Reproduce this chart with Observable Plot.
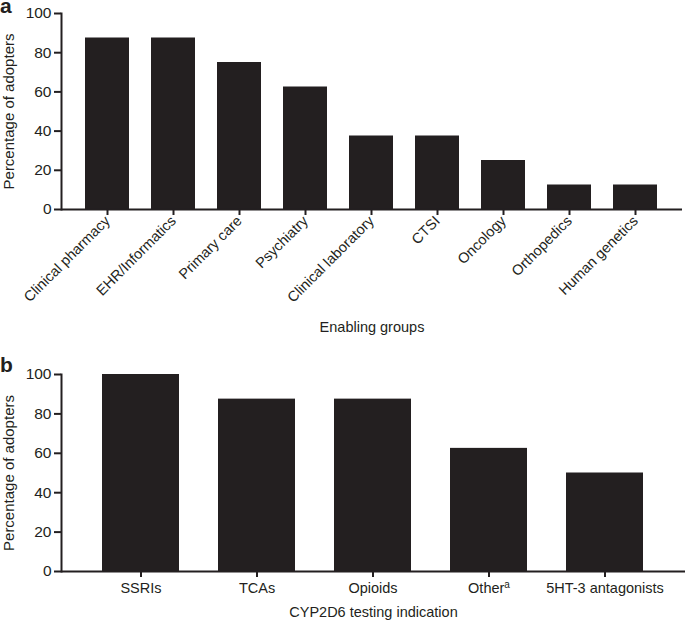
<!DOCTYPE html>
<html>
<head>
<meta charset="utf-8">
<script src="https://cdn.jsdelivr.net/npm/d3@7"></script>
<script src="https://cdn.jsdelivr.net/npm/@observablehq/plot@0.6"></script>
<style>
  html, body { margin: 0; padding: 0; background: #fff; }
  #wrap { position: relative; width: 685px; height: 622px; overflow: hidden; font-family: "Liberation Sans", Arial, Helvetica, sans-serif; color: #231f20; }
  #wrap svg { display: block; }
  .panel-letter { position: absolute; left: 0; font-weight: bold; font-size: 21px; line-height: 1; }
</style>
</head>
<body>
<div id="wrap">
  <div id="chartA"></div>
  <div id="chartB"></div>
  <div class="panel-letter" style="top:2px; line-height:0.35;">a</div>
  <div class="panel-letter" style="top:354px;">b</div>
</div>
<script>
// Panel a: enabling groups
const groups = ["Clinical pharmacy", "EHR/Informatics", "Primary care", "Psychiatry", "Clinical laboratory", "CTSI", "Oncology", "Orthopedics", "Human genetics"];
const groupValues = [87.5, 87.5, 75, 62.5, 37.5, 37.5, 25, 12.5, 12.5];

// Panel b: CYP2D6 testing indication
const indications = ["SSRIs", "TCAs", "Opioids", "Other", "5HT-3 antagonists"];
const indicationValues = [100, 87.5, 87.5, 62.5, 50];

const yTicks = [0, 20, 40, 60, 80, 100];
const yTitle = "Percentage of adopters";
const xTitleA = "Enabling groups";
const xTitleB = "CYP2D6 testing indication";

const ink = "#231f20";
const font = "'Liberation Sans', Arial, Helvetica, sans-serif";

const dataA = groups.map((g, i) => ({group: g, value: groupValues[i]}));
const dataB = indications.map((g, i) => ({group: g, value: indicationValues[i]}));

const chartA = Plot.plot({
  width: 685, height: 340,
  marginTop: 13, marginBottom: 131, marginLeft: 61, marginRight: 3,
  style: {fontFamily: font, fontSize: "14.5px", color: ink, background: "white", overflow: "visible"},
  x: {domain: groups, paddingInner: 0.338, paddingOuter: 0, align: 0.5, insetLeft: 22, insetRight: 23, label: null},
  y: {domain: [0, 100], label: null},
  marks: [
    Plot.barY(dataA, {x: "group", y: "value", fill: ink}),
    Plot.ruleY([0], {stroke: ink, strokeWidth: 2}),
    Plot.frame({anchor: "left", stroke: ink, strokeWidth: 2}),
    Plot.axisY({ticks: yTicks, tickSize: 7, tickPadding: 3, fontSize: 15.5, strokeWidth: 2, label: null}),
    Plot.axisX({tickRotate: -45, tickSize: 6, tickPadding: 3, strokeWidth: 2, fontSize: 14.5, label: null}),
    Plot.text([yTitle], {frameAnchor: "left", rotate: -90, dx: -52, fontSize: 15, fill: ink, textAnchor: "middle", lineAnchor: "middle"}),
    Plot.text([xTitleA], {frameAnchor: "bottom", dy: 118, fontSize: 14.5, fill: ink, textAnchor: "middle", lineAnchor: "middle"})
  ]
});
document.getElementById("chartA").appendChild(chartA);

const chartB = Plot.plot({
  width: 685, height: 282,
  marginTop: 34, marginBottom: 51, marginLeft: 61, marginRight: 0,
  style: {fontFamily: font, fontSize: "14.5px", color: ink, background: "white", overflow: "visible"},
  x: {domain: indications, paddingInner: 0.333, paddingOuter: 0, align: 0.5, insetLeft: 39, insetRight: 40, label: null},
  y: {domain: [0, 100], label: null},
  marks: [
    Plot.barY(dataB, {x: "group", y: "value", fill: ink}),
    Plot.ruleY([0], {stroke: ink, strokeWidth: 2}),
    Plot.frame({anchor: "left", stroke: ink, strokeWidth: 2}),
    Plot.axisY({ticks: yTicks, tickSize: 7, tickPadding: 3, fontSize: 15.5, strokeWidth: 2, label: null}),
    Plot.axisX({tickSize: 6, tickPadding: 5, strokeWidth: 2, fontSize: 14.5, label: null}),
    Plot.text([yTitle], {frameAnchor: "left", rotate: -90, dx: -52, fontSize: 15, fill: ink, textAnchor: "middle", lineAnchor: "middle"}),
    Plot.text([xTitleB], {frameAnchor: "bottom", dy: 41, fontSize: 14.5, fill: ink, textAnchor: "middle", lineAnchor: "middle"})
  ]
});
document.getElementById("chartB").appendChild(chartB);

// superscript "a" on the "Other" tick label
chartB.querySelectorAll("text").forEach(t => {
  if (t.textContent === "Other") {
    const sup = document.createElementNS("http://www.w3.org/2000/svg", "tspan");
    sup.setAttribute("dy", "-0.5em");
    sup.setAttribute("font-size", "10");
    sup.textContent = "a";
    t.appendChild(sup);
  }
});
</script>
</body>
</html>
